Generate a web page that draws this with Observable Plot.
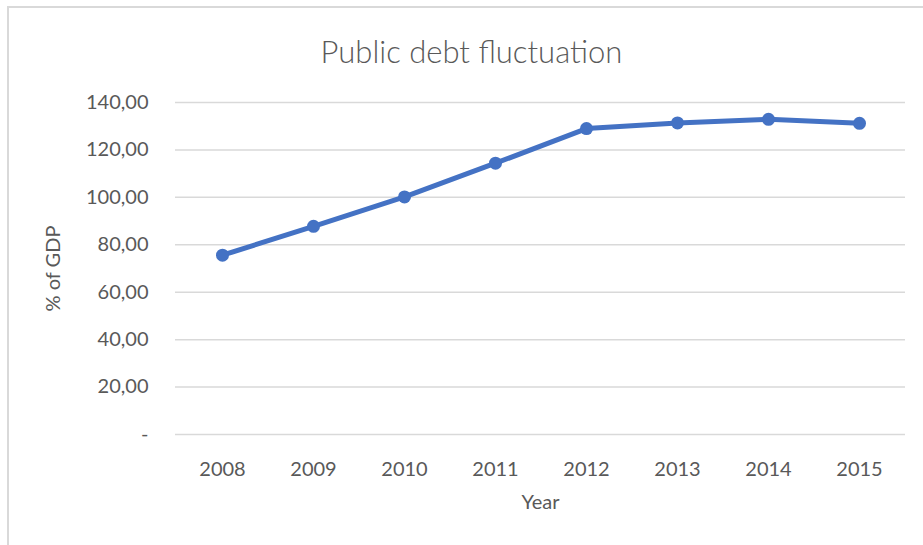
<!DOCTYPE html>
<html>
<head>
<meta charset="utf-8">
<script src="https://cdn.jsdelivr.net/npm/d3@7"></script>
<script src="https://cdn.jsdelivr.net/npm/@observablehq/plot@0.6"></script>
<style>
  html, body { margin: 0; padding: 0; background: #fff; }
  #wrap { position: relative; width: 923px; height: 545px; overflow: hidden; }
  #frame { position: absolute; left: 7px; top: 6px; right: -10px; bottom: -10px;
           border-left: 2px solid #d9d9d9; border-top: 2px solid #d9d9d9; pointer-events: none; }
  #title { height: 80px; line-height: 102px; text-align: center; font-family: Lato, sans-serif;
           font-size: 31px; font-weight: 300; color: #595959; padding-left: 20px; box-sizing: border-box; }
</style>
</head>
<body>
<div id="wrap">
  <div id="title">Public debt fluctuation</div>
  <div id="chart"></div>
  <div id="frame"></div>
</div>
<script>
const years = ["2008", "2009", "2010", "2011", "2012", "2013", "2014", "2015"];
const debt = [75.6, 87.8, 100.2, 114.4, 129.0, 131.4, 132.9, 131.2];
const yTicks = [0, 20, 40, 60, 80, 100, 120, 140];

const data = years.map((year, i) => ({year, value: debt[i]}));
const fmt = d => d === 0 ? "-" : d.toFixed(2).replace(".", ",");

const chart = Plot.plot({
  width: 923,
  height: 465,
  marginTop: 22,
  marginBottom: 111,
  marginLeft: 175,
  marginRight: 18,
  style: {fontFamily: "Lato, sans-serif", fontSize: "20px", color: "#595959", background: "transparent"},
  x: {type: "point", domain: years, padding: 0.5},
  y: {domain: [0, 140]},
  marks: [
    Plot.ruleY(yTicks, {stroke: "#d9d9d9", strokeWidth: 1.5}),
    Plot.axisY({ticks: yTicks, tickFormat: fmt, tickSize: 0, tickPadding: 27,
      label: "% of GDP", labelAnchor: "center", labelArrow: "none", labelOffset: 130}),
    Plot.axisX({tickSize: 0, tickPadding: 27, label: "Year", labelAnchor: "center",
      labelArrow: "none", labelOffset: 74}),
    Plot.line(data, {x: "year", y: "value", stroke: "#4472C4", strokeWidth: 5}),
    Plot.dot(data, {x: "year", y: "value", fill: "#4472C4", r: 6.5})
  ]
});
document.getElementById("chart").appendChild(chart);
</script>
</body>
</html>
